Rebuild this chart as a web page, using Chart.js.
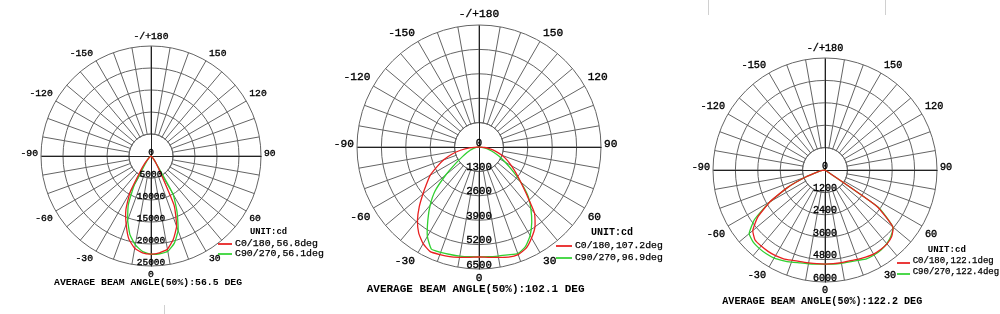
<!DOCTYPE html>
<html>
<head>
<meta charset="utf-8">
<script src="https://cdn.jsdelivr.net/npm/chart.js@4.4.1/dist/chart.umd.min.js"></script>
<style>
  body { margin: 0; background: #fff; }
  #page { position: relative; width: 1000px; height: 314px; overflow: hidden; background: #fff; }
  canvas { position: absolute; top: 0; }
  .t { position: absolute; font-family: "Liberation Mono", "DejaVu Sans Mono", monospace; line-height: 1; white-space: nowrap; color: #000; -webkit-text-stroke: 0.25px #000; }
  .b { font-weight: bold; -webkit-text-stroke: 0; }
  .sw { position: absolute; height: 2px; z-index: 2; }
  .edge { position: absolute; width: 1px; background: #d0d0d0; }
</style>
</head>
<body>
<div id="page">
  <canvas id="plot1" width="330" height="314" style="left:0px"></canvas>
  <canvas id="plot2" width="360" height="314" style="left:320px"></canvas>
  <canvas id="plot3" width="320" height="314" style="left:680px"></canvas>

  <!-- plot 1 texts -->
  <div class="t b" style="left:54px;top:278.4px;font-size:9.8px">AVERAGE BEAM ANGLE(50%):56.5 DEG</div>
  <div class="t b" style="left:250px;top:228.3px;font-size:8.8px">UNIT:cd</div>
  <div class="sw" style="left:218px;top:243px;width:14px;background:#ea3a3a"></div>
  <div class="t" style="left:235px;top:239px;font-size:9.9px">C0/180,56.8deg</div>
  <div class="sw" style="left:218px;top:253px;width:14px;background:#4cd84c"></div>
  <div class="t" style="left:235px;top:249.3px;font-size:9.9px">C90/270,56.1deg</div>

  <!-- plot 2 texts -->
  <div class="t b" style="left:366.7px;top:283.5px;font-size:11px">AVERAGE BEAM ANGLE(50%):102.1 DEG</div>
  <div class="t b" style="left:591px;top:228px;font-size:10px">UNIT:cd</div>
  <div class="sw" style="left:556px;top:245px;width:16px;background:#ea3a3a"></div>
  <div class="t" style="left:575px;top:240.8px;font-size:9.75px">C0/180,107.2deg</div>
  <div class="sw" style="left:556px;top:257px;width:16px;background:#4cd84c"></div>
  <div class="t" style="left:575px;top:253.4px;font-size:9.75px">C90/270,96.9deg</div>

  <!-- plot 3 texts -->
  <div class="t b" style="left:722.3px;top:296.6px;font-size:10.1px">AVERAGE BEAM ANGLE(50%):122.2 DEG</div>
  <div class="t b" style="left:927.7px;top:244.5px;font-size:9.1px">UNIT:cd</div>
  <div class="sw" style="left:897px;top:262px;width:13px;background:#ea3a3a"></div>
  <div class="t" style="left:912.7px;top:256.5px;font-size:9px">C0/180,122.1deg</div>
  <div class="sw" style="left:897px;top:273px;width:13px;background:#4cd84c"></div>
  <div class="t" style="left:912.7px;top:268.2px;font-size:9px">C90/270,122.4deg</div>

  <!-- faint screenshot edges -->
  <div class="edge" style="left:164px;top:305px;height:9px"></div>
  <div class="edge" style="left:708px;top:0px;height:15px"></div>
  <div class="edge" style="left:885px;top:0px;height:15px"></div>
</div>

<script>
// gamma angles where intensities were read (deg, negative = left side)
const sampleAngles = [-90,-85,-80,-75,-70,-65,-60,-55,-50,-45,-40,-35,-30,-25,-20,-15,-10,-5,0,
  5,10,15,20,25,30,35,40,45,50,55,60,65,70,75,80,85,90];

// angle labels around the circle
const angleLabels = [180,150,120,90,60,30,0,-30,-60,-90,-120,-150];

// plot 1
const plot1Ticks = [0,5000,10000,15000,20000,25000];
const plot1C0 = [0,0,0,0,0,0,50,150,400,1000,2200,4200,9500,13500,16500,19500,21300,22100,22300,
  22100,21500,19600,17000,12500,4000,2000,1000,500,200,80,0,0,0,0,0,0,0];
const plot1C90 = [0,0,0,0,0,50,100,250,500,900,1500,2500,7500,12200,15500,18500,20500,21800,22300,
  22300,22000,20500,18000,14000,10000,2000,800,300,100,0,0,0,0,0,0,0,0];

// plot 2
const plot2Ticks = [0,1300,2600,3900,5200,6500];
const plot2C0 = [0,500,1000,1500,2000,2450,3000,3400,3900,4500,5100,5600,5950,6150,6100,6050,5970,5900,5860,
  5900,5970,6080,6100,5950,5600,5200,4600,3600,2900,2400,2000,1650,1300,950,600,300,0];
const plot2C90 = [0,0,150,300,500,700,1000,1500,2300,3300,4050,4750,5500,6000,5970,5930,5900,5870,5850,
  5870,5900,5950,6050,5850,5450,4900,4300,3700,2900,2150,1600,1200,850,550,300,100,0];

// plot 3
const plot3Ticks = [0,1200,2400,3600,4800,6000];
const plot3C0 = [0,50,150,400,1100,2200,3400,4400,5050,5300,5320,5320,5300,5250,5150,5080,5050,5040,5040,
  5040,5040,5040,5100,5150,5200,5200,5170,5050,4750,3400,0,0,0,0,0,0,0];
const plot3C90 = [0,50,150,400,1100,2200,3400,4600,5300,5450,5480,5480,5450,5350,5250,5150,5100,5060,5040,
  5060,5080,5100,5150,5250,5260,5230,5150,5000,4750,3500,0,0,0,0,0,0,0];

const GRID = '#646464';
const AXIS = '#222';
const RED = '#e82020';
const GREEN = '#30d030';
const FONT = '"Liberation Mono", "DejaVu Sans Mono", monospace';

// radar spokes every 5 deg, 180 at the top, clockwise towards 90 on the right
const radarAngles = [];
for (let a = 180; a > -180; a -= 5) radarAngles.push(a);

function toRadar(values) {
  return radarAngles.map(a => {
    const k = sampleAngles.indexOf(a);
    return k >= 0 ? values[k] : 0;
  });
}

function indexOfAngle(deg) {
  return ((180 - deg) / 5 + 72) % 72;
}

function label(ctx, text, x, y) {
  ctx.fillText(text, x, y);
  ctx.strokeText(text, x, y);
}

const polarDecor = {
  id: 'polarDecor',
  beforeDatasetsDraw(chart, args, opts) {
    const s = chart.scales.r;
    const ctx = chart.ctx;
    const cx = s.xCenter, cy = s.yCenter;
    const inner = s.getDistanceFromCenterForValue(opts.ticks[1]);
    const outer = s.drawingArea;
    ctx.save();
    // spokes start at the first ring
    ctx.fillStyle = '#fff';
    ctx.beginPath();
    ctx.arc(cx, cy, inner - 0.6, 0, Math.PI * 2);
    ctx.fill();
    ctx.strokeStyle = GRID;
    ctx.lineWidth = 1;
    ctx.beginPath();
    ctx.arc(cx, cy, inner, 0, Math.PI * 2);
    ctx.stroke();
    // main cross through the centre
    ctx.strokeStyle = AXIS;
    ctx.beginPath();
    [0, 18].forEach(i => {
      const a = s.getPointPosition(i, outer);
      const b = s.getPointPosition(i + 36, outer);
      ctx.moveTo(Math.round(a.x) + 0.5, Math.round(a.y) + 0.5);
      ctx.lineTo(Math.round(b.x) + 0.5, Math.round(b.y) + 0.5);
    });
    ctx.stroke();
    ctx.restore();
  },
  afterDatasetsDraw(chart, args, opts) {
    const s = chart.scales.r;
    const ctx = chart.ctx;
    const outer = s.drawingArea;
    ctx.save();
    ctx.fillStyle = '#000';
    ctx.strokeStyle = '#000';
    ctx.lineWidth = 0.35;
    ctx.textBaseline = 'middle';

    // intensity labels down the 0 deg spoke
    ctx.font = opts.tickFont + 'px ' + FONT;
    ctx.textAlign = 'center';
    opts.ticks.forEach(v => {
      const p = s.getPointPosition(indexOfAngle(0), s.getDistanceFromCenterForValue(v));
      label(ctx, String(v), p.x, p.y - opts.tickFont * 0.4);
    });

    // angle labels outside the circle
    const f = opts.angleFont;
    ctx.font = f + 'px ' + FONT;
    angleLabels.forEach(deg => {
      const p = s.getPointPosition(indexOfAngle(deg), outer);
      let x = p.x, y = p.y;
      let text = String(deg);
      if (deg === 180) {
        text = '-/+180';
        ctx.textAlign = 'center';
        y -= f * 0.95;
      } else if (deg === 0) {
        ctx.textAlign = 'center';
        y += f * 0.85;
      } else {
        ctx.textAlign = deg > 0 ? 'left' : 'right';
        x += deg > 0 ? 3 : -3;
        if (Math.abs(deg) === 90) y -= f * 0.3;
        else if (Math.abs(deg) > 90) y -= f * 0.78;
        else y += f * 0.78;
      }
      label(ctx, text, x, y);
    });
    ctx.restore();
  }
};

function buildPlot(canvasId, ticks, c0, c90, box) {
  const canvas = document.getElementById(canvasId);
  const padding = {
    left: box.cx - box.radius - box.left,
    top: box.cy - box.radius,
    right: canvas.width - (box.cx + box.radius - box.left),
    bottom: canvas.height - (box.cy + box.radius)
  };
  return new Chart(canvas, {
    type: 'radar',
    data: {
      labels: radarAngles.map(String),
      datasets: [
        { label: 'C0/180', data: toRadar(c0), borderColor: RED, borderWidth: 1.3 },
        { label: 'C90/270', data: toRadar(c90), borderColor: GREEN, borderWidth: 1.3 }
      ]
    },
    options: {
      responsive: false,
      animation: false,
      devicePixelRatio: 1,
      layout: { padding: padding },
      elements: {
        line: { fill: false, tension: 0.15 },
        point: { radius: 0, hoverRadius: 0 }
      },
      scales: {
        r: {
          min: 0,
          max: ticks[ticks.length - 1],
          startAngle: 0,
          ticks: { display: false, stepSize: ticks[1] - ticks[0] },
          grid: { circular: true, color: GRID, lineWidth: 1 },
          angleLines: {
            color: c => (c.index % 2 === 0 ? GRID : 'rgba(0,0,0,0)'),
            lineWidth: 1
          },
          pointLabels: { display: false }
        }
      },
      plugins: {
        legend: { display: false },
        tooltip: { enabled: false },
        polarDecor: { ticks: ticks, angleFont: box.angleFont, tickFont: box.tickFont }
      }
    },
    plugins: [polarDecor]
  });
}

buildPlot('plot1', plot1Ticks, plot1C0, plot1C90,
  { left: 0, cx: 151, cy: 156, radius: 110, angleFont: 9.7, tickFont: 9.5 });
buildPlot('plot2', plot2Ticks, plot2C0, plot2C90,
  { left: 320, cx: 479, cy: 147, radius: 122, angleFont: 11.2, tickFont: 10.7 });
buildPlot('plot3', plot3Ticks, plot3C0, plot3C90,
  { left: 680, cx: 825, cy: 170, radius: 112, angleFont: 10.2, tickFont: 10 });
</script>
</body>
</html>
